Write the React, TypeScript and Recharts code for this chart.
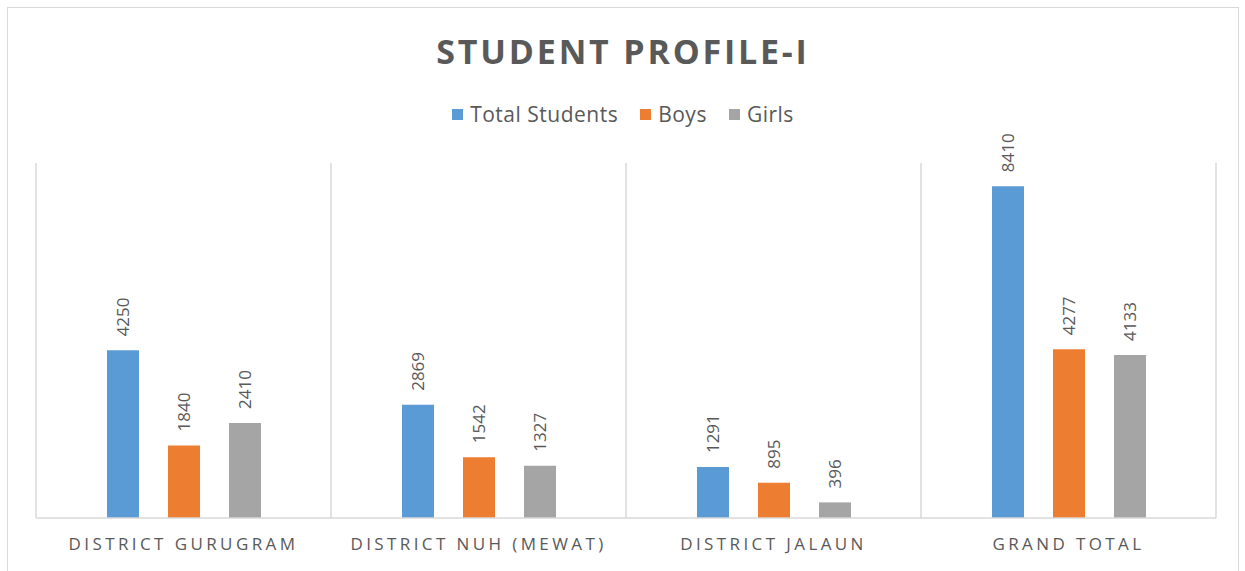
import { Bar, BarChart, CartesianGrid, LabelList, Legend, XAxis, YAxis } from "recharts";

const categories = ["DISTRICT GURUGRAM", "DISTRICT NUH (MEWAT)", "DISTRICT JALAUN", "GRAND TOTAL"];
const seriesNames = ["Total Students", "Boys", "Girls"];
const totalStudents = [4250, 2869, 1291, 8410];
const boys = [1840, 1542, 895, 4277];
const girls = [2410, 1327, 396, 4133];
// category boundaries for the vertical separators
const separatorTicks = [0, 1, 2, 3, 4];

const chartData = categories.map((c, i) => ({
  district: c,
  total: totalStudents[i],
  boys: boys[i],
  girls: girls[i],
}));

const TEXT = "#595959";
const GRID = "#d9d9d9";
const FONT = '"Open Sans", sans-serif';

function renderValue(props: any) {
  const { x, y, width, value } = props;
  const cx = Number(x) + Number(width) / 2;
  const cy = Number(y) - 14;
  return (
    <text
      x={cx}
      y={cy}
      transform={`rotate(-90 ${cx} ${cy})`}
      textAnchor="start"
      dominantBaseline="central"
      fill={TEXT}
      fontSize={17}
      fontFamily={FONT}
    >
      {value}
    </text>
  );
}

function renderLegend(props: any) {
  const items = [...(props.payload || [])].sort(
    (a: any, b: any) => seriesNames.indexOf(a.value) - seriesNames.indexOf(b.value)
  );
  return (
    <div style={{ display: "flex", justifyContent: "center", alignItems: "center", height: 24 }}>
      {items.map((p: any) => (
        <div key={p.value} style={{ display: "flex", alignItems: "center", margin: "0 11px" }}>
          <span style={{ width: 11, height: 11, background: p.color, display: "inline-block", marginRight: 7 }} />
          <span style={{ fontSize: 21, letterSpacing: 0.5, lineHeight: "24px", color: TEXT, fontFamily: FONT }}>
            {p.value}
          </span>
        </div>
      ))}
    </div>
  );
}

export default function App() {
  return (
    <div
      style={{
        position: "fixed",
        left: 7,
        top: 7,
        width: 1232,
        height: 600,
        border: `1px solid ${GRID}`,
        boxSizing: "border-box",
        background: "#fff",
        fontFamily: FONT,
      }}
    >
      <div
        style={{
          position: "absolute",
          left: 0,
          right: 0,
          top: 23,
          lineHeight: "40px",
          textAlign: "center",
          fontSize: 34,
          fontWeight: 700,
          letterSpacing: 2.8,
          color: TEXT,
        }}
      >
        STUDENT PROFILE-I
      </div>
      <BarChart
        width={1230}
        height={563}
        data={chartData}
        margin={{ top: 155, right: 22, bottom: 13, left: 28 }}
        barSize={32}
        barGap={29}
      >
        <CartesianGrid
          horizontal={false}
          stroke={GRID}
          strokeWidth={1.5}
          verticalCoordinatesGenerator={({ offset }: any) =>
            separatorTicks.map((t) => offset.left + (t * offset.width) / categories.length)
          }
        />
        <XAxis
          dataKey="district"
          axisLine={{ stroke: GRID, strokeWidth: 1.5 }}
          tickLine={false}
          tickMargin={14}
          height={40}
          tick={{ fill: TEXT, fontSize: 17, letterSpacing: 3.4, fontFamily: FONT }}
          interval={0}
        />
        <YAxis hide domain={[0, 9000]} />
        <Legend
          verticalAlign="middle"
          align="center"
          content={renderLegend}
          wrapperStyle={{ top: 94, left: 0, width: 1230 }}
        />
        <Bar dataKey="total" name={seriesNames[0]} fill="#5b9bd5" isAnimationActive={false}>
          <LabelList dataKey="total" content={renderValue} />
        </Bar>
        <Bar dataKey="boys" name={seriesNames[1]} fill="#ed7d31" isAnimationActive={false}>
          <LabelList dataKey="boys" content={renderValue} />
        </Bar>
        <Bar dataKey="girls" name={seriesNames[2]} fill="#a5a5a5" isAnimationActive={false}>
          <LabelList dataKey="girls" content={renderValue} />
        </Bar>
      </BarChart>
    </div>
  );
}
